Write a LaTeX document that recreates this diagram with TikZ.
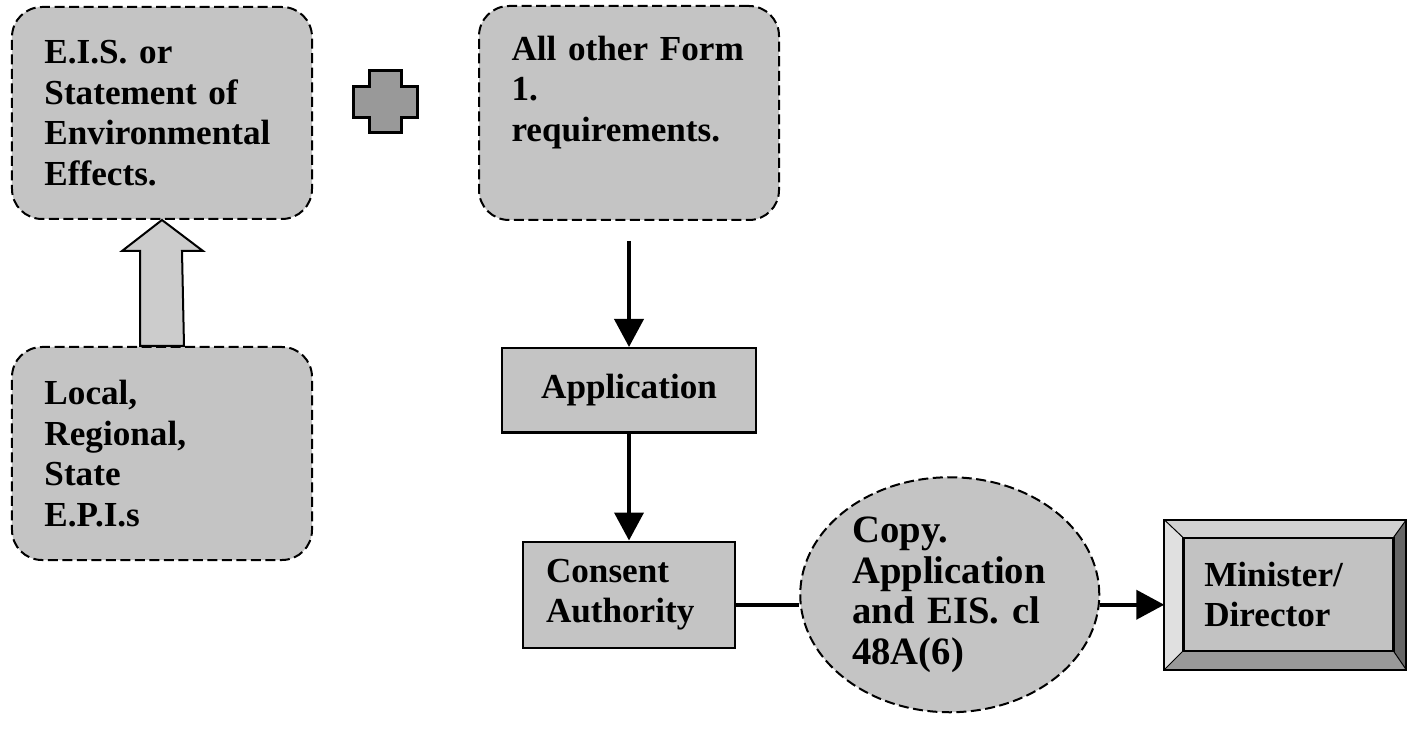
\documentclass[tikz,border=0pt]{standalone}
\usepackage{fontspec}
\setmainfont{Liberation Serif}
\usetikzlibrary{positioning,arrows.meta,shapes.geometric}
\definecolor{boxgray}{gray}{0.77}
\definecolor{arrgray}{gray}{0.80}
\definecolor{plusgray}{gray}{0.60}
\definecolor{facegray}{gray}{0.76}
\definecolor{bevtop}{gray}{0.82}
\definecolor{bevleft}{gray}{0.88}
\definecolor{bevright}{gray}{0.40}
\definecolor{bevbot}{gray}{0.60}
\tikzset{
data/.style={
  rectangle,
  rounded corners=6mm,
  draw,
  line width=0.4mm,
  dash pattern=on 2mm off 0.9mm,
  fill=boxgray,
  minimum width=60mm,
  text width=47mm,
  inner xsep=6.5mm,
  align=left,
  font=\bfseries\fontsize{20}{23}\selectfont\frenchspacing,
},
proc/.style={
  rectangle,
  draw,
  line width=0.5mm,
  fill=boxgray,
  font=\bfseries\fontsize{20}{23}\selectfont\frenchspacing,
},
oval/.style={
  ellipse,
  draw,
  line width=0.4mm,
  dash pattern=on 2mm off 0.9mm,
  fill=boxgray,
  inner sep=0pt,
  minimum width=59.8mm,
  minimum height=47mm,
  text width=39mm,
  align=left,
  font=\bfseries\fontsize{22}{23}\selectfont\frenchspacing,
},
bevel/.style={
  rectangle,
  draw,
  line width=0.4mm,
  fill=facegray,
  inner sep=0pt,
  minimum width=48mm,
  minimum height=29.6mm,
  text width=32.4mm,
  align=left,
  font=\bfseries\fontsize{20}{23}\selectfont,
},
pil/.style={
  -{Triangle[length=5.6mm,width=5.8mm]},
  line width=0.8mm,
},
link/.style={line width=0.8mm},
bigarrow/.style={draw, line width=0.4mm, fill=arrgray, line join=miter},
plusbox/.style={draw, line width=0.6mm, fill=plusgray},
}
\begin{document}
\begin{tikzpicture}[x=0.2mm,y=-0.2mm]
\useasboundingbox (0,0) rectangle (1409,729);

\node[data, minimum height=42.4mm] (eis) at (162,113)
  {E.I.S. or\\Statement of\\Environmental\\Effects.};
\node[data, minimum height=42.8mm, text depth=26mm, right=33mm of eis] (form)
  {All other Form\\1.\\requirements.};
\node[data, minimum height=42.6mm, below=25.2mm of eis] (local)
  {Local,\\Regional,\\State\\E.P.I.s};

\node[proc, minimum width=50.8mm, minimum height=16.8mm, below=25.2mm of form] (app) {Application};
\node[proc, minimum width=42.4mm, minimum height=21.2mm, text width=33.2mm, inner xsep=4.6mm,
  align=left, below=21.4mm of app] (consent) {Consent\\Authority};
\node[oval, right=12.6mm of consent] (copy) {Copy.\\Application\\and EIS. cl\\48A(6)};
\node[bevel, right=12.8mm of copy] (mini) {Minister/\\Director};

% bevelled frame of the last box
\coordinate (fnw) at ([shift={(3.8mm,-3.6mm)}]mini.north west);
\coordinate (fne) at ([shift={(-2.6mm,-3.6mm)}]mini.north east);
\coordinate (fse) at ([shift={(-2.6mm,3.8mm)}]mini.south east);
\coordinate (fsw) at ([shift={(3.8mm,3.8mm)}]mini.south west);
\fill[bevtop] (mini.north west) -- (mini.north east) -- (fne) -- (fnw) -- cycle;
\fill[bevleft] (mini.north west) -- (fnw) -- (fsw) -- (mini.south west) -- cycle;
\fill[bevright] (mini.north east) -- (mini.south east) -- (fse) -- (fne) -- cycle;
\fill[bevbot] (mini.south west) -- (fsw) -- (fse) -- (mini.south east) -- cycle;
\draw[line width=0.2mm] (mini.north west) -- (fnw) (mini.north east) -- (fne)
  (mini.south east) -- (fse) (mini.south west) -- (fsw);
\draw[line width=0.5mm] (fnw) rectangle (fse);
\draw[line width=0.4mm] (mini.north west) rectangle (mini.south east);

% plus sign
\draw[plusbox, shift={(385,102)}] (-16,-31) -- (16,-31) -- (16,-15) -- (32,-15) -- (32,16)
  -- (16,16) -- (16,31) -- (-16,31) -- (-16,16) -- (-32,16) -- (-32,-15) -- (-16,-15) -- cycle;

% hollow arrow up
\draw[bigarrow] ([xshift=-4.4mm]local.north) -- ++(0,-95) -- ++(-18,0) -- (eis.south)
  -- ++(41,31) -- ++(-21,0) -- ([xshift=4.4mm]local.north) -- cycle;

\draw[pil, shorten <=4mm] (form) -- (app);
\draw[pil] (app) -- (consent);
\draw[link] ([yshift=-2mm]consent.east) -- ([yshift=-2mm]copy.west);
\draw[pil] ([yshift=-2mm]copy.east) -- ([yshift=-2mm]mini.west);
\end{tikzpicture}
\end{document}
